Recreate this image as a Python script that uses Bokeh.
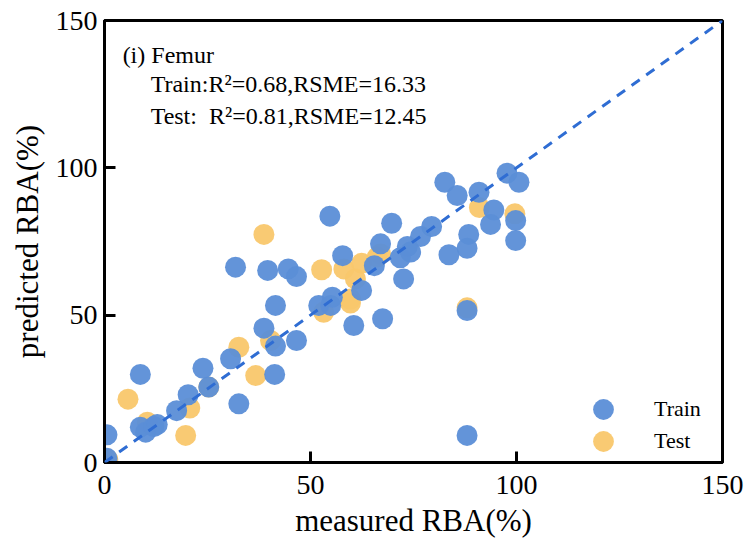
from bokeh.plotting import figure
from bokeh.models import Range1d, FixedTicker, Legend, LegendItem, Label, Slope
from bokeh.embed import file_html
from bokeh.resources import INLINE

# ---- data ----
train_x = [0.6, 0.6, 8.7, 8.7, 10, 12, 12.8, 17.5, 20.3, 23.9, 25.3, 30.6, 32.6, 41.5, 38.7,
           41.5, 46.6, 41.3, 52, 54.9, 60.5, 67.5, 88, 88, 54.7, 31.8, 39.6, 44.6, 46.6, 57.8,
           62.4, 65.5, 67, 55.3, 82.6, 85.6, 90.9, 97.7, 100.6, 94.5, 93.7, 99.8, 99.8, 88.4,
           88, 83.6, 69.7, 79.4, 76.7, 73.5, 71.8, 74.3, 72.6]
train_y = [1.4, 9.4, 29.9, 12, 10.3, 12.2, 12.9, 17.6, 23, 32, 25.6, 35.2, 19.9, 53.3, 45.6,
           39.5, 41.4, 29.9, 53.3, 53.3, 46.5, 48.8, 51.6, 9.2, 83.6, 66.3, 65.2, 65.7, 63.1, 70.2,
           58.4, 66.8, 74.2, 56.1, 95.1, 90.6, 91.7, 98.2, 95.1, 85.7, 80.8, 82.1, 75.3, 77.4,
           72.7, 70.5, 81.2, 80.1, 76.7, 73.3, 69.5, 71.4, 62.3]
test_x = [0.8, 5.7, 10.4, 20.7, 19.7, 25.3, 32.6, 40.3, 36.7, 53.2, 59.7, 88, 38.7, 52.7,
          58.1, 62.4, 59.7, 60.9, 66.2, 67, 91, 99.6]
test_y = [1, 21.5, 13.7, 18.5, 9.2, 25.6, 39.1, 41.4, 29.5, 51, 54.1, 52.5, 77.4, 65.4,
          65.7, 67.6, 55.5, 62.3, 69.7, 70.8, 86.5, 84.4]
ticks = [0, 50, 100, 150]
series_labels = ["Train", "Test"]
title_text = "(i) Femur"
train_stats = "Train:R²=0.68,RSME=16.33"
test_stats = "Test:\u00a0\u00a0R²=0.81,RSME=12.45"
x_label = "measured RBA(%)"
y_label = "predicted RBA(%)"

# ---- styles ----
BLUE = "#5b8ed7"
ORANGE = "#f9c76b"
LINE = "#2f6dd3"
FONT = "Liberation Serif"
MSIZE = 21

p = figure(width=746, height=541, output_backend="svg", toolbar_location=None,
           x_range=Range1d(0, 150), y_range=Range1d(0, 150),
           min_border_left=104, min_border_right=24, min_border_top=20, min_border_bottom=79)
p.background_fill_color = "white"
p.border_fill_color = "white"
p.grid.visible = False
p.outline_line_color = "black"
p.outline_line_width = 3
p.outline_line_alpha = 1

for ax in (p.xaxis[0], p.yaxis[0]):
    ax.ticker = FixedTicker(ticks=ticks)
    ax.axis_line_width = 3
    ax.axis_line_color = "black"
    ax.major_tick_line_width = 3
    ax.major_tick_line_color = "black"
    ax.major_tick_in = 11
    ax.major_tick_out = 0
    ax.minor_tick_line_color = None
    ax.major_label_text_font = FONT
    ax.major_label_text_font_size = "28px"
    ax.major_label_text_color = "black"
    ax.axis_label_text_font = FONT
    ax.axis_label_text_font_size = "31px"
    ax.axis_label_text_font_style = "normal"
    ax.axis_label_text_color = "black"

p.xaxis.axis_label = x_label
p.yaxis.axis_label = y_label
p.xaxis.major_label_standoff = 13
p.xaxis.axis_label_standoff = 6
p.yaxis.major_label_standoff = 7
p.yaxis.axis_label_standoff = 8

r_test = p.scatter(test_x, test_y, size=MSIZE, fill_color=ORANGE, line_color=None, fill_alpha=0.95)
r_train = p.scatter(train_x, train_y, size=MSIZE, fill_color=BLUE, line_color=None, fill_alpha=0.95)

p.add_layout(Slope(gradient=1, y_intercept=0, line_color=LINE, line_width=3, line_dash="10 8"))

def make_legend(label, renderer, loc):
    lg = Legend(items=[LegendItem(label=label, renderers=[renderer])], location=loc)
    lg.glyph_width = int(MSIZE / 0.4)
    lg.glyph_height = int(MSIZE / 0.4)
    lg.padding = 0
    lg.margin = 0
    lg.label_standoff = 25
    lg.label_text_font = FONT
    lg.label_text_font_size = "22px"
    lg.label_text_color = "black"
    lg.background_fill_alpha = 0
    lg.border_line_alpha = 0
    return lg

# legend boxes are 52px; centres at frame-relative 53 and 21 px above the bottom
p.add_layout(make_legend(series_labels[0], r_train, (473, 27)), "center")
p.add_layout(make_legend(series_labels[1], r_test, (473, -5)), "center")

for txt, xx, yy in ((title_text, 4.4, 138.4), (train_stats, 11.2, 128.4), (test_stats, 11.2, 117.6)):
    p.add_layout(Label(x=xx, y=yy, text=txt, text_font=FONT, text_font_size="24px",
                       text_color="black", text_baseline="alphabetic", text_align="left"))

open("out.html", "w").write(file_html(p, INLINE))
